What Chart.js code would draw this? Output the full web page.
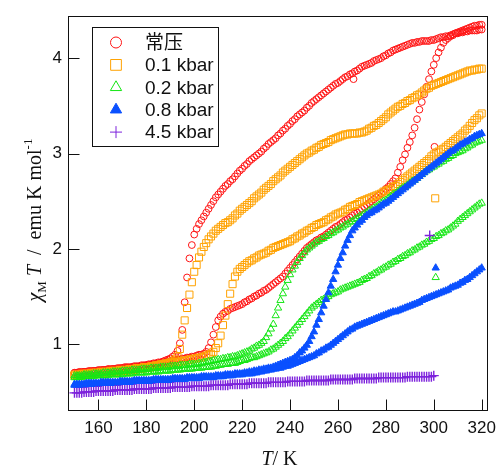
<!DOCTYPE html>
<html>
<head>
<meta charset="utf-8">
<script src="https://cdn.jsdelivr.net/npm/chart.js@4.4.1/dist/chart.umd.min.js"></script>
<style>
	html, body { margin: 0; padding: 0; background: #fff; }
</style>
</head>
<body>
<canvas id="chart" width="504" height="468"></canvas>
<script>

// axis ranges and tick labels
const xRange = [147.3, 322.2];
const yRange = [0.31, 4.44];
const xTicks = [160, 180, 200, 220, 240, 260, 280, 300, 320];
const yTicks = [1, 2, 3, 4];

const seriesNames = ['常压', '0.1 kbar', '0.2 kbar', '0.8 kbar', '4.5 kbar'];

// measurement temperatures (K)
const temps = [
	150,151,152,153,154,155,156,157,158,159,
	160,161,162,163,164,165,166,167,168,169,
	170,171,172,173,174,175,176,177,178,179,
	180,181,182,183,184,185,186,187,188,189,
	190,191,192,193,194,195,196,197,198,199,
	200,201,202,203,204,205,206,207,208,209,
	210,211,212,213,214,215,216,217,218,219,
	220,221,222,223,224,225,226,227,228,229,
	230,231,232,233,234,235,236,237,238,239,
	240,241,242,243,244,245,246,247,248,249,
	250,251,252,253,254,255,256,257,258,259,
	260,261,262,263,264,265,266,267,268,269,
	270,271,272,273,274,275,276,277,278,279,
	280,281,282,283,284,285,286,287,288,289,
	290,291,292,293,294,295,296,297,298,299,
	300,301,302,303,304,305,306,307,308,309,
	310,311,312,313,314,315,316,317,318,319,
	320
];

// chiT values, two branches per pressure
const ambientA = [
	.70,.70,.71,.71,.71,.71,.72,.72,.72,.72,
	.73,.73,.73,.73,.74,.74,.74,.74,.75,.75,
	.75,.76,.76,.76,.76,.77,.77,.77,.78,.78,
	.78,.79,.79,.80,.80,.81,.81,.82,.83,.84,
	.85,.87,.89,.93,1.01,1.15,1.44,1.70,1.90,2.04,
	2.15,2.21,2.26,2.30,2.34,2.38,2.42,2.46,2.50,2.54,
	2.57,2.60,2.63,2.66,2.68,2.71,2.73,2.76,2.79,2.82,
	2.84,2.87,2.89,2.92,2.94,2.96,2.98,3.00,3.02,3.05,
	3.07,3.10,3.12,3.14,3.16,3.19,3.21,3.24,3.26,3.29,
	3.31,3.34,3.36,3.39,3.41,3.43,3.45,3.48,3.50,3.53,
	3.55,3.57,3.59,3.61,3.63,3.65,3.67,3.69,3.71,3.73,
	3.74,3.76,3.78,3.80,3.81,3.83,3.84,3.86,3.87,3.89,
	3.91,3.92,3.93,3.94,3.95,3.97,3.98,3.99,4.00,4.02,
	4.03,4.05,4.06,4.08,4.09,4.10,4.11,4.12,4.13,4.14,
	4.15,4.16,4.16,4.17,4.17,4.18,4.18,4.18,4.18,4.19,
	4.19,4.20,4.21,4.22,4.22,4.23,4.23,4.24,4.25,4.26,
	4.26,4.27,4.27,4.28,4.28,4.29,4.29,4.29,4.29,4.30,
	4.30
];
const ambientB = [
	.70,.70,.70,.70,.71,.71,.71,.71,.72,.72,
	.72,.72,.73,.73,.73,.73,.74,.74,.74,.74,
	.75,.75,.75,.75,.76,.76,.76,.76,.77,.77,
	.78,.78,.78,.79,.79,.80,.80,.81,.81,.82,
	.82,.83,.83,.84,.84,.85,.85,.86,.86,.87,
	.87,.88,.89,.89,.90,.92,.96,1.02,1.10,1.18,
	1.25,1.29,1.32,1.34,1.35,1.37,1.38,1.39,1.40,1.41,
	1.42,1.44,1.45,1.47,1.48,1.50,1.51,1.53,1.54,1.56,
	1.57,1.59,1.61,1.63,1.65,1.67,1.69,1.71,1.74,1.77,
	1.80,1.83,1.86,1.89,1.92,1.95,1.98,2.01,2.03,2.05,
	2.07,2.09,2.10,2.12,2.13,2.15,2.17,2.19,2.21,2.23,
	2.24,2.26,2.28,2.30,2.31,2.33,2.35,2.37,2.38,2.40,
	2.42,2.44,2.46,2.48,2.50,2.52,2.54,2.56,2.58,2.60,
	2.63,2.65,2.68,2.71,2.74,2.80,2.86,2.93,2.99,3.06,
	3.12,3.19,3.27,3.36,3.46,3.54,3.62,3.70,3.78,3.86,
	3.93,4.00,4.06,4.11,4.16,4.19,4.21,4.23,4.24,4.26,
	4.27,4.28,4.29,4.30,4.31,4.32,4.33,4.34,4.34,4.35,
	4.35
];
const ambientStray = [[266.5, 3.78], [300.3, 3.07]];

const p01A = [
	.68,.68,.68,.69,.69,.69,.69,.70,.70,.70,
	.70,.71,.71,.71,.71,.72,.72,.72,.72,.73,
	.73,.73,.73,.74,.74,.74,.75,.75,.75,.76,
	.76,.76,.77,.77,.78,.78,.79,.79,.80,.80,
	.81,.82,.84,.87,.95,1.10,1.25,1.38,1.52,1.65,
	1.76,1.83,1.91,1.97,2.02,2.06,2.10,2.13,2.16,2.19,
	2.21,2.23,2.25,2.27,2.28,2.30,2.32,2.35,2.37,2.40,
	2.42,2.44,2.46,2.48,2.50,2.53,2.55,2.57,2.59,2.62,
	2.64,2.66,2.68,2.71,2.73,2.75,2.77,2.80,2.82,2.84,
	2.86,2.88,2.90,2.92,2.94,2.96,2.98,3.00,3.01,3.03,
	3.04,3.06,3.07,3.09,3.10,3.11,3.12,3.14,3.15,3.16,
	3.17,3.18,3.19,3.20,3.20,3.21,3.21,3.21,3.21,3.22,
	3.22,3.23,3.24,3.26,3.27,3.29,3.30,3.32,3.34,3.36,
	3.38,3.41,3.43,3.45,3.47,3.49,3.50,3.52,3.53,3.55,
	3.56,3.58,3.59,3.61,3.62,3.64,3.66,3.68,3.69,3.71,
	3.72,3.73,3.74,3.75,3.76,3.77,3.78,3.79,3.80,3.81,
	3.82,3.83,3.84,3.85,3.86,3.87,3.87,3.88,3.88,3.89,
	3.89
];
const p01B = [
	.67,.67,.67,.68,.68,.68,.68,.69,.69,.69,
	.69,.70,.70,.70,.70,.71,.71,.71,.71,.72,
	.72,.72,.72,.73,.73,.73,.74,.74,.74,.75,
	.75,.75,.76,.76,.77,.77,.78,.78,.79,.79,
	.80,.80,.81,.81,.82,.82,.83,.83,.84,.84,
	.85,.85,.86,.86,.87,.88,.89,.90,.92,.96,
	1.01,1.09,1.20,1.30,1.42,1.53,1.63,1.71,1.76,1.79,
	1.81,1.83,1.85,1.87,1.88,1.90,1.91,1.93,1.94,1.95,
	1.96,1.98,1.99,2.01,2.02,2.03,2.04,2.05,2.06,2.07,
	2.08,2.10,2.11,2.13,2.14,2.16,2.17,2.19,2.20,2.22,
	2.23,2.25,2.26,2.27,2.28,2.30,2.31,2.33,2.34,2.36,
	2.37,2.38,2.39,2.41,2.42,2.44,2.45,2.46,2.47,2.49,
	2.50,2.51,2.52,2.53,2.54,2.55,2.56,2.57,2.58,2.60,
	2.61,2.62,2.63,2.65,2.66,2.68,2.70,2.72,2.74,2.76,
	2.78,2.80,2.82,2.84,2.86,2.88,2.90,2.92,2.94,2.97,
	2.99,3.01,3.02,3.04,3.05,3.07,3.09,3.11,3.13,3.15,
	3.17,3.19,3.21,3.24,3.26,3.29,3.32,3.35,3.37,3.40,
	3.42
];
const p01Stray = [[300.6, 2.53]];

const p02A = [
	.67,.67,.67,.67,.68,.68,.68,.68,.69,.69,
	.69,.69,.70,.70,.70,.70,.71,.71,.71,.71,
	.72,.72,.72,.72,.73,.73,.73,.73,.74,.74,
	.74,.74,.75,.75,.75,.75,.76,.76,.76,.76,
	.77,.77,.77,.77,.78,.78,.78,.78,.79,.79,
	.79,.79,.80,.80,.81,.81,.82,.82,.83,.83,
	.84,.84,.85,.85,.86,.86,.87,.87,.88,.89,
	.90,.91,.92,.93,.95,.96,.98,.99,1.01,1.03,
	1.07,1.11,1.16,1.21,1.30,1.38,1.46,1.53,1.60,1.67,
	1.73,1.78,1.82,1.86,1.90,1.93,1.96,1.99,2.01,2.03,
	2.05,2.07,2.08,2.10,2.11,2.13,2.14,2.16,2.17,2.19,
	2.20,2.22,2.23,2.25,2.26,2.28,2.29,2.31,2.32,2.34,
	2.35,2.37,2.38,2.40,2.41,2.43,2.44,2.46,2.48,2.50,
	2.51,2.53,2.55,2.57,2.58,2.60,2.62,2.64,2.65,2.67,
	2.69,2.71,2.72,2.74,2.76,2.78,2.80,2.82,2.83,2.85,
	2.86,2.88,2.89,2.91,2.92,2.94,2.95,2.97,2.98,3.00,
	3.01,3.02,3.03,3.05,3.06,3.08,3.09,3.11,3.12,3.13,
	3.14
];
const p02B = [
	.65,.65,.65,.65,.66,.66,.66,.66,.66,.67,
	.67,.67,.67,.67,.67,.68,.68,.68,.68,.68,
	.68,.69,.69,.69,.69,.70,.70,.70,.70,.70,
	.70,.71,.71,.71,.71,.71,.72,.72,.72,.72,
	.72,.73,.73,.73,.73,.74,.74,.74,.74,.74,
	.75,.75,.75,.75,.76,.76,.76,.76,.77,.77,
	.78,.78,.79,.79,.79,.80,.80,.80,.81,.82,
	.83,.83,.84,.85,.86,.86,.87,.88,.89,.90,
	.91,.92,.94,.95,.97,.99,1.01,1.03,1.06,1.08,
	1.11,1.14,1.17,1.20,1.23,1.26,1.29,1.32,1.35,1.38,
	1.40,1.42,1.44,1.46,1.47,1.49,1.50,1.52,1.53,1.54,
	1.55,1.57,1.58,1.59,1.60,1.61,1.62,1.63,1.64,1.65,
	1.67,1.68,1.69,1.71,1.72,1.74,1.75,1.77,1.78,1.80,
	1.81,1.83,1.84,1.86,1.87,1.89,1.90,1.92,1.93,1.95,
	1.96,1.98,1.99,2.01,2.02,2.04,2.05,2.07,2.08,2.10,
	2.11,2.13,2.14,2.16,2.17,2.19,2.20,2.22,2.24,2.26,
	2.29,2.31,2.33,2.35,2.37,2.39,2.41,2.43,2.45,2.47,
	2.48
];
const p02Stray = [[300.8, 1.70]];

const p08A = [
	.58,.58,.58,.58,.58,.59,.59,.59,.59,.59,
	.59,.60,.60,.60,.60,.60,.60,.60,.60,.61,
	.61,.61,.61,.61,.61,.62,.62,.62,.62,.62,
	.62,.62,.62,.63,.63,.63,.63,.63,.63,.63,
	.63,.64,.64,.64,.64,.64,.64,.65,.65,.65,
	.65,.65,.65,.66,.66,.66,.66,.66,.66,.67,
	.67,.67,.67,.68,.68,.68,.68,.69,.69,.69,
	.69,.70,.70,.71,.71,.72,.72,.73,.73,.74,
	.74,.75,.75,.76,.77,.78,.79,.80,.81,.82,
	.83,.84,.86,.88,.91,.93,.96,.99,1.03,1.08,
	1.13,1.20,1.26,1.33,1.40,1.47,1.54,1.61,1.68,1.76,
	1.83,1.90,1.96,2.03,2.09,2.14,2.19,2.22,2.25,2.28,
	2.30,2.33,2.35,2.37,2.38,2.40,2.41,2.43,2.45,2.47,
	2.48,2.50,2.52,2.54,2.56,2.58,2.60,2.62,2.64,2.66,
	2.68,2.70,2.72,2.74,2.76,2.78,2.80,2.82,2.84,2.86,
	2.88,2.90,2.92,2.94,2.96,2.98,3.00,3.02,3.03,3.05,
	3.07,3.09,3.10,3.12,3.13,3.15,3.16,3.18,3.19,3.20,
	3.21
];
const p08B = [
	.57,.57,.57,.57,.57,.58,.58,.58,.58,.58,
	.58,.59,.59,.59,.59,.59,.59,.59,.59,.60,
	.60,.60,.60,.60,.60,.61,.61,.61,.61,.61,
	.61,.61,.61,.62,.62,.62,.62,.62,.62,.62,
	.62,.63,.63,.63,.63,.63,.63,.64,.64,.64,
	.64,.64,.64,.65,.65,.65,.65,.65,.65,.66,
	.66,.66,.66,.67,.67,.67,.67,.68,.68,.68,
	.68,.69,.69,.69,.69,.70,.70,.71,.71,.72,
	.72,.73,.73,.74,.74,.75,.75,.76,.77,.77,
	.78,.79,.80,.81,.82,.83,.84,.85,.86,.87,
	.88,.90,.91,.93,.94,.96,.97,.99,1.01,1.03,
	1.05,1.07,1.09,1.11,1.13,1.15,1.16,1.18,1.19,1.20,
	1.21,1.22,1.23,1.24,1.25,1.26,1.27,1.28,1.29,1.30,
	1.31,1.32,1.33,1.34,1.34,1.35,1.36,1.37,1.38,1.39,
	1.40,1.41,1.42,1.43,1.44,1.46,1.47,1.48,1.49,1.50,
	1.51,1.52,1.53,1.54,1.55,1.56,1.57,1.59,1.60,1.61,
	1.62,1.64,1.65,1.67,1.68,1.70,1.72,1.74,1.76,1.78,
	1.80
];
const p08Stray = [[300.8, 1.80]];

// 4.5 kbar only measured up to 300 K
const p45 = [
	.49,.49,.49,.49,.50,.50,.50,.50,.50,.51,
	.51,.51,.51,.51,.51,.51,.51,.52,.52,.52,
	.52,.52,.52,.52,.52,.53,.53,.53,.53,.53,
	.53,.53,.53,.54,.54,.54,.54,.54,.54,.54,
	.54,.55,.55,.55,.55,.55,.55,.55,.55,.56,
	.56,.56,.56,.56,.56,.56,.56,.57,.57,.57,
	.57,.57,.57,.57,.57,.58,.58,.58,.58,.58,
	.58,.58,.58,.59,.59,.59,.59,.59,.59,.59,
	.59,.60,.60,.60,.60,.60,.60,.60,.60,.61,
	.61,.61,.61,.61,.61,.61,.61,.62,.62,.62,
	.62,.62,.62,.62,.62,.62,.62,.63,.63,.63,
	.63,.63,.63,.63,.63,.63,.63,.64,.64,.64,
	.64,.64,.64,.64,.64,.64,.64,.65,.65,.65,
	.65,.65,.65,.65,.65,.65,.65,.65,.65,.66,
	.66,.66,.66,.66,.66,.66,.66,.66,.66,.66,
	.67
];
const p45Stray = [[298.3, 2.14]];


const branch = (ys) => ys.map((y, i) => ({x: temps[i], y: y}));
const stray = (pairs) => pairs.map(([x, y]) => ({x: x, y: y}));

const styles = [
	{color: '#ff1414', fill: 'rgba(0,0,0,0)', pointStyle: 'circle',   radius: 3.4, width: 1,   legendRadius: 5.5},
	{color: '#ffa200', fill: 'rgba(0,0,0,0)', pointStyle: 'rect',     radius: 5,   width: 1,   legendRadius: 7.6},
	{color: '#14e614', fill: 'rgba(0,0,0,0)', pointStyle: 'triangle', radius: 4.2, width: 1,   legendRadius: 6.5},
	{color: '#0a50ff', fill: '#0a50ff',       pointStyle: 'triangle', radius: 4.2, width: 1,   legendRadius: 6.5},
	{color: '#7d22dc', fill: 'rgba(0,0,0,0)', pointStyle: 'cross',    radius: 5,   width: 1.4, legendRadius: 6}
];

const seriesData = [
	[...branch(ambientA), ...branch(ambientB), ...stray(ambientStray)],
	[...branch(p01A), ...branch(p01B), ...stray(p01Stray)],
	[...branch(p02A), ...branch(p02B), ...stray(p02Stray)],
	[...branch(p08A), ...branch(p08B), ...stray(p08Stray)],
	[...branch(p45), ...stray(p45Stray)]
];

const datasets = seriesData.map((points, i) => ({
	label: seriesNames[i],
	data: points,
	showLine: false,
	pointStyle: styles[i].pointStyle,
	pointRadius: styles[i].radius,
	pointBorderWidth: styles[i].width,
	borderColor: styles[i].color,
	backgroundColor: styles[i].fill,
	// later series drawn on top
	order: seriesNames.length - i
}));


// frame round the plot and inward tick marks
const framePlugin = {
	id: 'frame',
	afterDraw(chart){
		var ctx = chart.ctx;
		var area = chart.chartArea;
		var left = Math.round(area.left) + 0.5;
		var right = Math.round(area.right) + 0.5;
		var top = Math.round(area.top) + 0.5;
		var bottom = Math.round(area.bottom) + 0.5;

		ctx.save();
		ctx.strokeStyle = '#111';
		ctx.lineWidth = 1;
		ctx.strokeRect(left, top, right - left, bottom - top);

		ctx.beginPath();
		xTicks.forEach((v) => {
			var px = Math.round(chart.scales.x.getPixelForValue(v)) + 0.5;
			ctx.moveTo(px, bottom);
			ctx.lineTo(px, bottom - 11);
		});
		yTicks.forEach((v) => {
			var py = Math.round(chart.scales.y.getPixelForValue(v)) + 0.5;
			ctx.moveTo(left, py);
			ctx.lineTo(left + 11, py);
		});
		ctx.stroke();
		ctx.restore();
	}
};

// axis titles with italic / sub / superscript parts
const titlePlugin = {
	id: 'titles',
	afterDraw(chart){
		var ctx = chart.ctx;
		var area = chart.chartArea;
		ctx.save();
		ctx.fillStyle = '#111';
		ctx.textAlign = 'left';
		ctx.textBaseline = 'alphabetic';

		// x title: T / K
		var parts = [
			{t: 'T', f: 'italic 20px "Liberation Serif"'},
			{t: '/ K', f: '20px "Liberation Serif"'}
		];
		var w = 0;
		parts.forEach((p) => { ctx.font = p.f; w += ctx.measureText(p.t).width; });
		var x = (area.left + area.right) / 2 - w / 2 + 2;
		parts.forEach((p) => {
			ctx.font = p.f;
			ctx.fillText(p.t, x, 465);
			x += ctx.measureText(p.t).width;
		});

		// y title: chi_M T / emu K mol^-1, rotated
		var yparts = [
			{t: '\u03C7', f: 'italic 20px "Liberation Serif"', dy: 0},
			{t: 'M', f: '13px "Liberation Serif"', dy: 5},
			{t: ' T', f: 'italic 20px "Liberation Serif"', dy: 0},
			{t: '  /  emu K mol', f: '20px "Liberation Serif"', dy: 0},
			{t: '-1', f: '13px "Liberation Serif"', dy: -9}
		];
		var yw = 0;
		yparts.forEach((p) => { ctx.font = p.f; yw += ctx.measureText(p.t).width; });
		ctx.translate(41, 220);
		ctx.rotate(-Math.PI / 2);
		var sx = -yw / 2;
		yparts.forEach((p) => {
			ctx.font = p.f;
			ctx.fillText(p.t, sx, p.dy);
			sx += ctx.measureText(p.t).width;
		});
		ctx.restore();
	}
};

// boxed legend in the top left of the plot
const legendBox = {left: 92, top: 27, width: 126, height: 119, markerX: 116, textX: 145, firstRow: 42.5, rowStep: 22.4};

const legendPlugin = {
	id: 'boxLegend',
	afterDatasetsDraw(chart){
		var ctx = chart.ctx;
		ctx.save();
		ctx.fillStyle = '#fff';
		ctx.fillRect(legendBox.left, legendBox.top, legendBox.width, legendBox.height);
		ctx.strokeStyle = '#111';
		ctx.lineWidth = 1;
		ctx.strokeRect(legendBox.left + 0.5, legendBox.top + 0.5, legendBox.width, legendBox.height);

		seriesNames.forEach((name, i) => {
			var y = legendBox.firstRow + i * legendBox.rowStep;
			ctx.fillStyle = styles[i].fill;
			ctx.strokeStyle = styles[i].color;
			ctx.lineWidth = 1;
			Chart.helpers.drawPoint(ctx, {
				pointStyle: styles[i].pointStyle,
				radius: styles[i].legendRadius,
				rotation: 0,
				borderWidth: 1
			}, legendBox.markerX, y);

			ctx.fillStyle = '#111';
			ctx.font = '19px "Liberation Sans", "Noto Sans CJK SC"';
			ctx.textAlign = 'left';
			ctx.textBaseline = 'middle';
			ctx.fillText(name, legendBox.textX, y + 1);
		});
		ctx.restore();
	}
};


const tickFont = {family: '"Liberation Sans", Arial, sans-serif', size: 17};

new Chart(document.getElementById('chart'), {
	type: 'scatter',
	data: {datasets: datasets},
	options: {
		responsive: false,
		animation: false,
		devicePixelRatio: 1,
		events: [],
		layout: {padding: {top: 13, right: 11, left: 0, bottom: 0}},
		plugins: {
			legend: {display: false},
			tooltip: {enabled: false}
		},
		scales: {
			x: {
				type: 'linear',
				min: xRange[0],
				max: xRange[1],
				grid: {display: false, drawTicks: false},
				border: {display: false},
				ticks: {color: '#111', font: tickFont, padding: 8, maxRotation: 0, callback: (v) => String(v)},
				afterBuildTicks: (scale) => { scale.ticks = xTicks.map((v) => ({value: v})); },
				afterFit: (scale) => { scale.height = 58; }
			},
			y: {
				type: 'linear',
				min: yRange[0],
				max: yRange[1],
				grid: {display: false, drawTicks: false},
				border: {display: false},
				ticks: {color: '#111', font: tickFont, padding: 6, callback: (v) => String(v)},
				afterBuildTicks: (scale) => { scale.ticks = yTicks.map((v) => ({value: v})); },
				afterFit: (scale) => { scale.width = 68; }
			}
		}
	},
	plugins: [framePlugin, legendPlugin, titlePlugin]
});

</script>
</body>
</html>
